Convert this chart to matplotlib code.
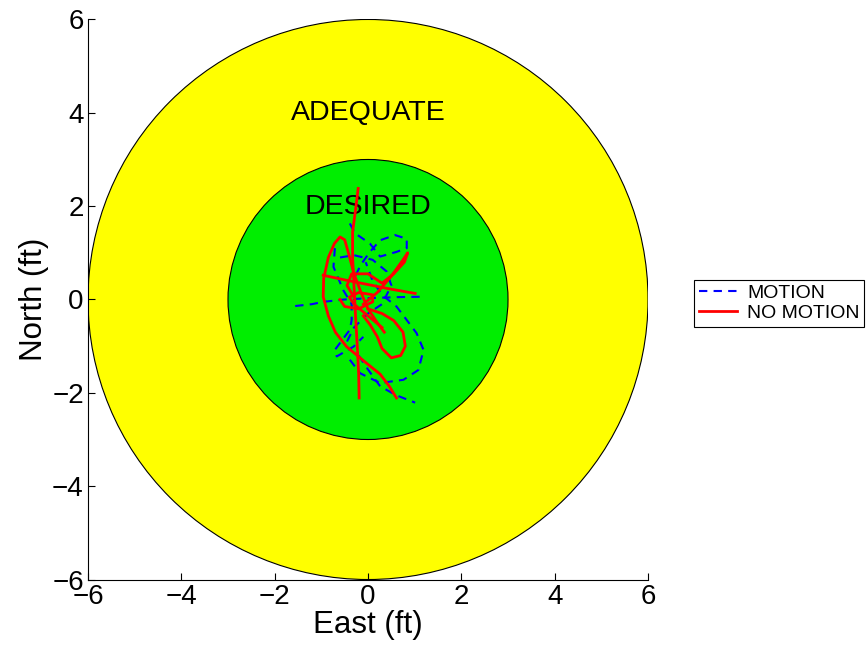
import matplotlib.pyplot as plt
from matplotlib.patches import Circle

# zone radii (ft)
adequate_radius = 6
desired_radius = 3

# blue dashed tracks (MOTION), east/north in ft
motion_tracks = [
    [(-1.56, -0.14), (-1.2, -0.1), (-0.96, -0.05), (-0.5, 0.0), (0.04, 0.03), (0.6, 0.05), (1.22, 0.06)],
    [(-0.39, 1.63), (-0.28, 1.42), (0.04, 1.2), (0.26, 0.92), (0.61, 1.02), (0.83, 1.1), (0.83, 1.3),
     (0.58, 1.38), (0.26, 1.27), (0.04, 1.02), (-0.15, 0.75), (-0.3, 0.45)],
    [(-0.71, 1.1), (-0.74, 0.7), (-0.53, 0.2), (-0.35, -0.1), (-0.35, -0.44), (-0.39, -0.65),
     (-0.71, -1.08), (-0.67, -1.22), (-0.31, -1.01), (-0.1, -0.8)],
    [(-0.39, -1.29), (-0.17, -1.58), (0.26, -1.79), (0.76, -1.72), (1.08, -1.51), (1.19, -1.08),
     (1.04, -0.72), (0.83, -0.44), (0.61, -0.15), (0.3, 0.1), (0.1, 0.4), (-0.05, 0.8)],
    [(-0.2, -1.2), (0.0, -1.5), (0.26, -1.86), (0.6, -2.05), (1.01, -2.21)],
    [(-0.6, 0.9), (-0.3, 0.95), (0.1, 0.85), (0.4, 0.6), (0.5, 0.3), (0.3, -0.1), (0.0, -0.3),
     (-0.3, -0.6), (-0.45, -0.9)],
]

# red solid tracks (NO MOTION)
no_motion_tracks = [
    [(-0.21, 2.38), (-0.27, 1.9), (-0.33, 1.45), (-0.33, 0.9), (-0.3, 0.3), (-0.27, -0.3),
     (-0.23, -1.0), (-0.2, -1.6), (-0.19, -2.11)],
    [(0.61, -2.11), (0.45, -1.85), (0.26, -1.6), (-0.05, -1.35), (-0.46, -1.01), (-0.7, -0.7),
     (-0.85, -0.35), (-0.96, 0.06), (-0.95, 0.45), (-0.85, 0.9), (-0.72, 1.2), (-0.6, 1.34),
     (-0.5, 1.28), (-0.42, 1.0), (-0.3, 0.55), (-0.15, 0.15), (0.0, -0.2), (0.2, -0.5), (0.35, -0.7)],
    [(-0.96, 0.52), (-0.5, 0.42), (0.0, 0.32), (0.5, 0.22), (1.01, 0.13)],
    [(-0.1, -0.1), (0.2, 0.15), (0.5, 0.5), (0.75, 0.85), (0.85, 1.0), (0.78, 0.8), (0.55, 0.55),
     (0.3, 0.35), (0.0, 0.55), (-0.35, 0.55), (-0.45, 0.3), (-0.3, 0.05)],
    [(0.0, -0.2), (0.3, -0.3), (0.55, -0.45), (0.75, -0.7), (0.8, -1.0), (0.7, -1.2), (0.5, -1.25),
     (0.3, -1.05), (0.2, -0.8), (0.05, -0.55), (-0.1, -0.35)],
    [(-0.6, 0.0), (-0.5, -0.15), (-0.2, -0.2), (0.1, -0.05), (0.1, 0.1), (-0.2, 0.15), (-0.4, 0.05),
     (-0.3, -0.1), (0.0, -0.35), (0.3, -0.6)],
]

ticks = [-6, -4, -2, 0, 2, 4, 6]

plt.rcParams['font.family'] = ['Liberation Sans', 'DejaVu Sans']

fig = plt.figure(figsize=(8.66, 6.52), dpi=100)
ax = fig.add_axes([0.1016, 0.1104, 0.6467, 0.8605])

ax.add_patch(Circle((0, 0), adequate_radius, facecolor='#ffff00', edgecolor='black', linewidth=0.8, zorder=1))
ax.add_patch(Circle((0, 0), desired_radius, facecolor='#00ee00', edgecolor='black', linewidth=0.8, zorder=2))

ax.text(0, 3.99, 'ADEQUATE', ha='center', va='center', fontsize=20.5, zorder=3)
ax.text(0, 1.98, 'DESIRED', ha='center', va='center', fontsize=20.5, zorder=3)

for i, track in enumerate(motion_tracks):
    xs = [p[0] for p in track]
    ys = [p[1] for p in track]
    ax.plot(xs, ys, color='blue', linestyle=(0, (4, 3)), linewidth=1.5, zorder=4,
            label='MOTION' if i == 0 else None)

for i, track in enumerate(no_motion_tracks):
    xs = [p[0] for p in track]
    ys = [p[1] for p in track]
    ax.plot(xs, ys, color='red', linewidth=2, zorder=5,
            label='NO MOTION' if i == 0 else None)

ax.set_xlim(-6, 6)
ax.set_ylim(-6, 6)
ax.set_aspect('equal')
ax.set_xticks(ticks)
ax.set_yticks(ticks)
ax.tick_params(direction='in', labelsize=20, length=5, pad=3)
ax.spines['top'].set_visible(False)
ax.spines['right'].set_visible(False)
ax.set_xlabel('East (ft)', fontsize=22.5, labelpad=0)
ax.set_ylabel('North (ft)', fontsize=22.5, labelpad=2)

leg = fig.legend(loc='center left', bbox_to_anchor=(0.801, 0.535), fontsize=14,
                 fancybox=False, edgecolor='black', framealpha=1,
                 handlelength=2.0, borderpad=0.25, labelspacing=0.1, handletextpad=0.5,
                 borderaxespad=0)
leg.get_frame().set_linewidth(0.8)

fig.savefig('out.png', dpi=100)
